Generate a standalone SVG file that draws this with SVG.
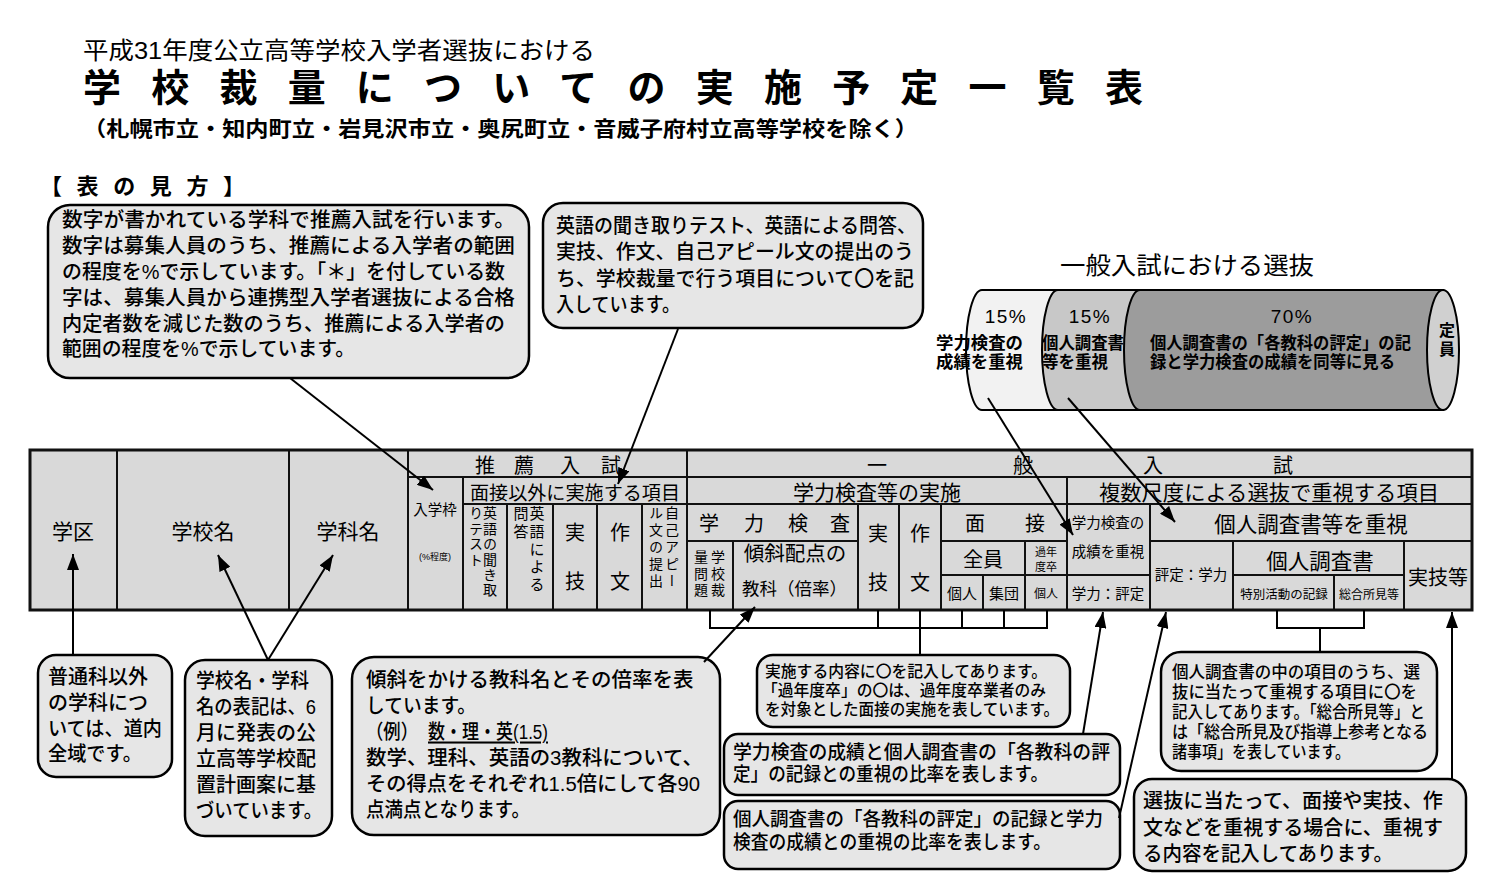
<svg xmlns="http://www.w3.org/2000/svg" width="1500" height="879" viewBox="0 0 1500 879">
<defs>
<style>
text{font-family:"Liberation Sans","Noto Sans CJK JP",sans-serif;fill:#000;dominant-baseline:central}
.b{font-weight:bold}
.m{font-weight:500}
.co{fill:#e6e6e6;stroke:#000;stroke-width:2.5}
.cell{fill:#d9d9d9;stroke:#111;stroke-width:2}
.tt{font-family:"Noto Sans CJK JP",sans-serif}
.mid{text-anchor:middle}
.v{writing-mode:vertical-rl}
.conn line,.conn path{stroke:#000;stroke-width:2;fill:none}
.cyl{stroke:#000;stroke-width:2}
</style>
<marker id="ah" viewBox="0 0 16 12" refX="16" refY="6" markerWidth="16" markerHeight="12" markerUnits="userSpaceOnUse" orient="auto"><path d="M0,0 L16,6 L0,12 z" fill="#000"/></marker>
</defs>
<rect width="1500" height="879" fill="#fff"/>

<g id="title">
<text x="83" y="50" font-size="24" textLength="512" lengthAdjust="spacingAndGlyphs">平成31年度公立高等学校入学者選抜における</text>
<text x="83" y="88" font-size="38" class="b" textLength="1060" lengthAdjust="spacing">学校裁量についての実施予定一覧表</text>
<text x="83" y="128" font-size="21" class="b" textLength="835" lengthAdjust="spacingAndGlyphs">（札幌市立・知内町立・岩見沢市立・奥尻町立・音威子府村立高等学校を除く）</text>
<text x="40" y="186" font-size="22" class="b" textLength="205" lengthAdjust="spacing">【表の見方】</text>
</g>

<g id="note-suisen" class="m">
<rect class="co" x="48" y="205" width="481" height="173" rx="22"/>
<text x="62" y="219" font-size="20.5" textLength="453" lengthAdjust="spacingAndGlyphs">数字が書かれている学科で推薦入試を行います。</text>
<text x="62" y="245" font-size="20.5" textLength="453" lengthAdjust="spacingAndGlyphs">数字は募集人員のうち、推薦による入学者の範囲</text>
<text x="62" y="271" font-size="20.5" textLength="443" lengthAdjust="spacingAndGlyphs">の程度を%で示しています。「＊」を付している数</text>
<text x="62" y="297" font-size="20.5" textLength="453" lengthAdjust="spacingAndGlyphs">字は、募集人員から連携型入学者選抜による合格</text>
<text x="62" y="323" font-size="20.5" textLength="443" lengthAdjust="spacingAndGlyphs">内定者数を減じた数のうち、推薦による入学者の</text>
<text x="62" y="348" font-size="20.5" textLength="293" lengthAdjust="spacingAndGlyphs">範囲の程度を%で示しています。</text>
</g>

<g id="note-items" class="m">
<rect class="co" x="543" y="203" width="380" height="125" rx="20"/>
<text x="556" y="226" font-size="20" textLength="360" lengthAdjust="spacingAndGlyphs">英語の聞き取りテスト、英語による問答、</text>
<text x="556" y="252" font-size="20" textLength="358" lengthAdjust="spacingAndGlyphs">実技、作文、自己アピール文の提出のう</text>
<text x="556" y="279" font-size="20" textLength="358" lengthAdjust="spacingAndGlyphs">ち、学校裁量で行う項目について〇を記</text>
<text x="556" y="305" font-size="20" textLength="124" lengthAdjust="spacingAndGlyphs">入しています。</text>
</g>

<g id="cylinder">
<text x="1060" y="265" font-size="24" textLength="254" lengthAdjust="spacingAndGlyphs">一般入試における選抜</text>
<path class="cyl" fill="#f2f2f2" d="M982,290 L1443,290 L1443,410 L982,410 A16,60 0 0 1 982,290 Z"/>
<path class="cyl" fill="#c8c8c8" d="M1058,290 L1443,290 L1443,410 L1058,410 A16,60 0 0 1 1058,290 Z"/>
<path class="cyl" fill="#9c9c9c" d="M1140,290 L1443,290 L1443,410 L1140,410 A16,60 0 0 1 1140,290 Z"/>
<ellipse class="cyl" fill="#d0d0d0" cx="1443" cy="350" rx="16" ry="60"/>
<text class="mid" x="1006" y="316" font-size="19" letter-spacing="1.5">15%</text>
<text class="mid" x="1090" y="316" font-size="19" letter-spacing="1.5">15%</text>
<text class="mid" x="1292" y="316" font-size="19" letter-spacing="1.5">70%</text>
<text class="b" x="936" y="343" font-size="17" textLength="87" lengthAdjust="spacingAndGlyphs">学力検査の</text>
<text class="b" x="936" y="362" font-size="17" textLength="87" lengthAdjust="spacingAndGlyphs">成績を重視</text>
<text class="b" x="1042" y="343" font-size="17" textLength="82" lengthAdjust="spacingAndGlyphs">個人調査書</text>
<text class="b" x="1042" y="362" font-size="17" textLength="66" lengthAdjust="spacingAndGlyphs">等を重視</text>
<text class="b" x="1150" y="343" font-size="17" textLength="261" lengthAdjust="spacingAndGlyphs">個人調査書の「各教科の評定」の記</text>
<text class="b" x="1150" y="362" font-size="17" textLength="245" lengthAdjust="spacingAndGlyphs">録と学力検査の成績を同等に見る</text>
<text class="b mid" x="1447" y="330" font-size="16">定</text>
<text class="b mid" x="1447" y="349" font-size="16">員</text>
</g>

<g id="table">
<rect class="cell" x="30" y="450" width="87" height="160"/>
<rect class="cell" x="117" y="450" width="172" height="160"/>
<rect class="cell" x="289" y="450" width="119" height="160"/>
<rect class="cell" x="408" y="450" width="279" height="27"/>
<rect class="cell" x="408" y="477" width="55" height="133"/>
<rect class="cell" x="463" y="477" width="224" height="27"/>
<rect class="cell" x="463" y="504" width="44" height="106"/>
<rect class="cell" x="507" y="504" width="46" height="106"/>
<rect class="cell" x="553" y="504" width="44" height="106"/>
<rect class="cell" x="597" y="504" width="45" height="106"/>
<rect class="cell" x="642" y="504" width="45" height="106"/>
<rect class="cell" x="687" y="450" width="785" height="27"/>
<rect class="cell" x="687" y="477" width="380" height="27"/>
<rect class="cell" x="687" y="504" width="171" height="37"/>
<rect class="cell" x="687" y="541" width="46" height="69"/>
<rect class="cell" x="733" y="541" width="125" height="69"/>
<rect class="cell" x="858" y="504" width="41" height="106"/>
<rect class="cell" x="899" y="504" width="42" height="106"/>
<rect class="cell" x="941" y="504" width="126" height="37"/>
<rect class="cell" x="941" y="541" width="84" height="34"/>
<rect class="cell" x="1025" y="541" width="42" height="34"/>
<rect class="cell" x="941" y="575" width="42" height="35"/>
<rect class="cell" x="983" y="575" width="42" height="35"/>
<rect class="cell" x="1025" y="575" width="42" height="35"/>
<rect class="cell" x="1067" y="477" width="405" height="27"/>
<rect class="cell" x="1067" y="504" width="83" height="71"/>
<rect class="cell" x="1067" y="575" width="83" height="35"/>
<rect class="cell" x="1150" y="504" width="322" height="37"/>
<rect class="cell" x="1150" y="541" width="83" height="69"/>
<rect class="cell" x="1233" y="541" width="171" height="34"/>
<rect class="cell" x="1233" y="575" width="101" height="35"/>
<rect class="cell" x="1334" y="575" width="70" height="35"/>
<rect class="cell" x="1404" y="541" width="68" height="69"/>
<rect x="30" y="450" width="1442" height="160" fill="none" stroke="#111" stroke-width="3"/>

<text class="tt mid" x="73" y="530" font-size="21">学区</text>
<text class="tt mid" x="203" y="530" font-size="21">学校名</text>
<text class="tt mid" x="348" y="530" font-size="21">学科名</text>
<text class="tt mid" x="485 524 570 611" y="464" font-size="20">推薦入試</text>
<text class="tt mid" x="435" y="508" font-size="14.5">入学枠</text>
<text class="mid" x="435" y="557" font-size="9">(%程度)</text>
<text class="tt mid" x="575" y="491" font-size="19" textLength="210" lengthAdjust="spacingAndGlyphs">面接以外に実施する項目</text>
<text class="tt v" x="490" y="506" font-size="14" letter-spacing="1.4">英語の聞き取</text>
<text class="tt v" x="476" y="506" font-size="14" letter-spacing="1.4">りテスト</text>
<text class="tt v" x="537" y="506" font-size="15" letter-spacing="2.7">英語による</text>
<text class="tt v" x="521" y="506" font-size="15" letter-spacing="2.7">問答</text>
<text class="tt mid" x="575" y="531" font-size="20">実</text>
<text class="tt mid" x="575" y="580" font-size="20">技</text>
<text class="tt mid" x="620" y="531" font-size="20">作</text>
<text class="tt mid" x="620" y="580" font-size="20">文</text>
<text class="tt v" x="672" y="506" font-size="14" letter-spacing="3">自己アピー</text>
<text class="tt v" x="656" y="506" font-size="14" letter-spacing="3">ル文の提出</text>

<text class="tt mid" x="877 1023 1153 1283" y="464" font-size="20">一般入試</text>
<text class="tt mid" x="877" y="491" font-size="21">学力検査等の実施</text>
<text class="tt mid" x="709 754 798 840" y="522" font-size="20">学力検査</text>
<text class="tt v" x="718" y="550" font-size="14" letter-spacing="2.5">学校裁</text>
<text class="tt v" x="701" y="550" font-size="14" letter-spacing="2.5">量問題</text>
<text class="tt mid" x="795" y="552" font-size="20.5">傾斜配点の</text>
<text class="tt" x="742" y="587" font-size="17.5" textLength="105" lengthAdjust="spacingAndGlyphs">教科（倍率）</text>
<text class="tt mid" x="878" y="532" font-size="20">実</text>
<text class="tt mid" x="878" y="581" font-size="20">技</text>
<text class="tt mid" x="920" y="532" font-size="20">作</text>
<text class="tt mid" x="920" y="581" font-size="20">文</text>
<text class="tt mid" x="975 1035" y="522" font-size="20">面接</text>
<text class="tt mid" x="983" y="558" font-size="20">全員</text>
<text class="tt mid" x="1046" y="551" font-size="11">過年</text>
<text class="tt mid" x="1046" y="566" font-size="11">度卒</text>
<text class="tt mid" x="962" y="592" font-size="15">個人</text>
<text class="tt mid" x="1004" y="592" font-size="15">集団</text>
<text class="tt mid" x="1046" y="592" font-size="12">個人</text>

<text class="tt mid" x="1269" y="491" font-size="21" textLength="340" lengthAdjust="spacingAndGlyphs">複数尺度による選抜で重視する項目</text>
<text class="tt mid" x="1108" y="521" font-size="14.5">学力検査の</text>
<text class="tt mid" x="1108" y="550" font-size="14.5">成績を重視</text>
<text class="tt mid" x="1108" y="592" font-size="14.5">学力：評定</text>
<text class="tt mid" x="1311" y="522" font-size="21.5">個人調査書等を重視</text>
<text class="tt mid" x="1191" y="573" font-size="14.5">評定：学力</text>
<text class="tt mid" x="1320" y="559" font-size="21.5">個人調査書</text>
<text class="tt mid" x="1284" y="593" font-size="12.5">特別活動の記録</text>
<text class="tt mid" x="1369" y="593" font-size="12">総合所見等</text>
<text class="tt mid" x="1438" y="576" font-size="20">実技等</text>
</g>

<g id="note-gakku" class="m">
<rect class="co" x="38" y="655" width="134" height="122" rx="18"/>
<text x="48" y="677" font-size="20">普通科以外</text>
<text x="48" y="703" font-size="20">の学科につ</text>
<text x="48" y="729" font-size="20" textLength="114" lengthAdjust="spacingAndGlyphs">いては、道内</text>
<text x="48" y="754" font-size="20" textLength="94" lengthAdjust="spacingAndGlyphs">全域です。</text>
</g>

<g id="note-school" class="m">
<rect class="co" x="185" y="660" width="147" height="176" rx="20"/>
<text x="196" y="681" font-size="20" textLength="113" lengthAdjust="spacingAndGlyphs">学校名・学科</text>
<text x="196" y="707" font-size="20" textLength="120" lengthAdjust="spacingAndGlyphs">名の表記は、6</text>
<text x="196" y="733" font-size="20">月に発表の公</text>
<text x="196" y="759" font-size="20">立高等学校配</text>
<text x="196" y="785" font-size="20">置計画案に基</text>
<text x="196" y="811" font-size="20" textLength="126" lengthAdjust="spacingAndGlyphs">づいています。</text>
</g>

<g id="note-keisha" class="m">
<rect class="co" x="352" y="657" width="368" height="178" rx="22"/>
<text x="366" y="679" font-size="20.5">傾斜をかける教科名とその倍率を表</text>
<text x="366" y="705" font-size="20.5" textLength="110" lengthAdjust="spacingAndGlyphs">しています。</text>
<text x="366" y="731" font-size="20.5" textLength="52" lengthAdjust="spacingAndGlyphs">（例）</text>
<text x="428" y="731" font-size="20.5" textLength="120" lengthAdjust="spacingAndGlyphs" text-decoration="underline">数・理・英(1.5)</text>
<text x="366" y="757" font-size="20.5" textLength="337" lengthAdjust="spacingAndGlyphs">数学、理科、英語の3教科について、</text>
<text x="366" y="783" font-size="20.5" textLength="334" lengthAdjust="spacingAndGlyphs">その得点をそれぞれ1.5倍にして各90</text>
<text x="366" y="809" font-size="20.5" textLength="164" lengthAdjust="spacingAndGlyphs">点満点となります。</text>
</g>

<g id="note-jisshi" class="m">
<rect class="co" x="757" y="655" width="313" height="72" rx="16"/>
<text x="765" y="671" font-size="16" textLength="282" lengthAdjust="spacingAndGlyphs">実施する内容に〇を記入してあります。</text>
<text x="762" y="690" font-size="16" textLength="284" lengthAdjust="spacingAndGlyphs">「過年度卒」の〇は、過年度卒業者のみ</text>
<text x="765" y="709" font-size="16" textLength="294" lengthAdjust="spacingAndGlyphs">を対象とした面接の実施を表しています。</text>
</g>

<g id="note-gakuryoku" class="m">
<rect class="co" x="724" y="734" width="396" height="61" rx="14"/>
<text x="733" y="752" font-size="19" textLength="377" lengthAdjust="spacingAndGlyphs">学力検査の成績と個人調査書の「各教科の評</text>
<text x="733" y="774" font-size="19" textLength="315" lengthAdjust="spacingAndGlyphs">定」の記録との重視の比率を表します。</text>
</g>

<g id="note-hyotei" class="m">
<rect class="co" x="724" y="801" width="396" height="68" rx="14"/>
<text x="733" y="819" font-size="19" textLength="370" lengthAdjust="spacingAndGlyphs">個人調査書の「各教科の評定」の記録と学力</text>
<text x="733" y="842" font-size="19" textLength="318" lengthAdjust="spacingAndGlyphs">検査の成績との重視の比率を表します。</text>
</g>

<g id="note-chosasho" class="m">
<rect class="co" x="1161" y="652" width="276" height="119" rx="20"/>
<text x="1172" y="672" font-size="16.5" textLength="248" lengthAdjust="spacingAndGlyphs">個人調査書の中の項目のうち、選</text>
<text x="1172" y="692" font-size="16.5" textLength="245" lengthAdjust="spacingAndGlyphs">抜に当たって重視する項目に〇を</text>
<text x="1172" y="712" font-size="16.5" textLength="253" lengthAdjust="spacingAndGlyphs">記入してあります。「総合所見等」と</text>
<text x="1172" y="732" font-size="16.5" textLength="256" lengthAdjust="spacingAndGlyphs">は「総合所見及び指導上参考となる</text>
<text x="1172" y="752" font-size="16.5" textLength="178" lengthAdjust="spacingAndGlyphs">諸事項」を表しています。</text>
</g>

<g id="note-jitsugi" class="m">
<rect class="co" x="1134" y="779" width="332" height="92" rx="18"/>
<text x="1143" y="800" font-size="20.5" textLength="300" lengthAdjust="spacingAndGlyphs">選抜に当たって、面接や実技、作</text>
<text x="1143" y="827" font-size="20.5" textLength="300" lengthAdjust="spacingAndGlyphs">文などを重視する場合に、重視す</text>
<text x="1143" y="853" font-size="20.5" textLength="250" lengthAdjust="spacingAndGlyphs">る内容を記入してあります。</text>
</g>

<g id="connectors" class="conn">
<line x1="290" y1="378" x2="433" y2="490" marker-end="url(#ah)"/>
<line x1="678" y1="329" x2="618" y2="484" marker-end="url(#ah)"/>
<line x1="988" y1="398" x2="1073" y2="535" marker-end="url(#ah)"/>
<line x1="1068" y1="398" x2="1175" y2="522" marker-end="url(#ah)"/>
<line x1="73" y1="655" x2="73" y2="554" marker-end="url(#ah)"/>
<line x1="268" y1="660" x2="218" y2="555" marker-end="url(#ah)"/>
<line x1="268" y1="660" x2="333" y2="555" marker-end="url(#ah)"/>
<line x1="704" y1="662" x2="755" y2="607" marker-end="url(#ah)"/>
<line x1="1083" y1="734" x2="1103" y2="612" marker-end="url(#ah)"/>
<line x1="1119" y1="818" x2="1166" y2="612" marker-end="url(#ah)"/>
<line x1="1452" y1="779" x2="1452" y2="612" marker-end="url(#ah)"/>
<path d="M710,610 V628 H1047 V610 M878,610 V628 M920,610 V655 M962,610 V628 M1004,610 V628"/>
<path d="M1277,610 V628 H1364 V610 M1320,628 V652"/>
</g>
</svg>
